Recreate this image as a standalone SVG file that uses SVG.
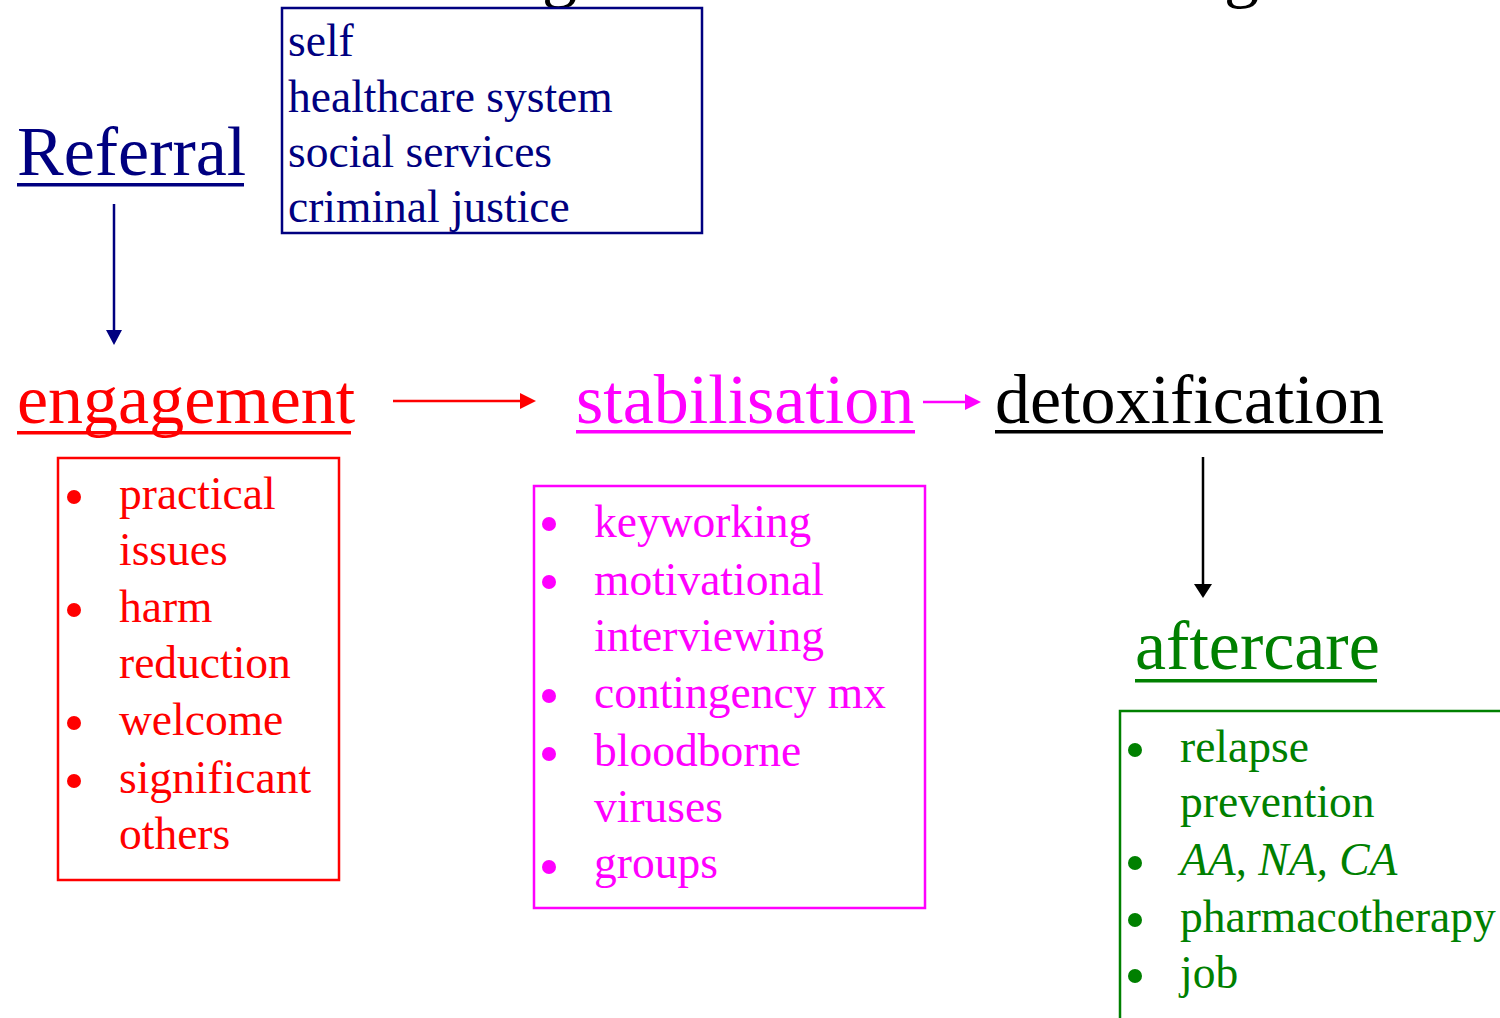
<svg xmlns="http://www.w3.org/2000/svg" width="1500" height="1018" viewBox="0 0 1500 1018">
<defs>
<style>
text{font-family:"Liberation Serif","Times New Roman",serif}
.h{font-size:70px}
.b{font-size:45.5px}
.navy{fill:#000080}
.red{fill:#FF0000}
.mag{fill:#FF00FF}
.grn{fill:#008000}
.blk{fill:#000000}
</style>
</defs>
<rect width="1500" height="1018" fill="#fff"/>
<g id="title-fragment">
<text x="542" y="-6" class="h blk">g</text>
<text x="1224" y="-6" class="h blk">g</text>
</g>
<g id="referral">
<text x="17" y="175" class="h navy">Referral</text>
<rect x="17" y="183" width="227" height="3.5" fill="#000080"/>
</g>
<g id="sources">
<rect x="282" y="8" width="420" height="225" fill="none" stroke="#000080" stroke-width="2.5"/>
<text class="b navy" x="288" y="56">self</text>
<text class="b navy" x="288" y="112">healthcare system</text>
<text class="b navy" x="288" y="167">social services</text>
<text class="b navy" x="288" y="222">criminal justice</text>
</g>
<g id="engagement">
<text x="17" y="423" class="h red">engagement</text>
<rect x="17" y="431" width="334" height="3.5" fill="#FF0000"/>
</g>
<g id="engagement-list">
<rect x="58" y="458" width="281" height="422" fill="none" stroke="#FF0000" stroke-width="2.5"/>
<g fill="#FF0000"><circle cx="74" cy="497" r="7"/><circle cx="74" cy="610" r="7"/><circle cx="74" cy="723" r="7"/><circle cx="74" cy="781" r="7"/></g>
<text class="b red" x="119" y="509">practical</text>
<text class="b red" x="119" y="565">issues</text>
<text class="b red" x="119" y="622">harm</text>
<text class="b red" x="119" y="678">reduction</text>
<text class="b red" x="119" y="735">welcome</text>
<text class="b red" x="119" y="793">significant</text>
<text class="b red" x="119" y="849">others</text>
</g>
<g id="stabilisation">
<text x="576" y="423" class="h mag">stabilisation</text>
<rect x="576" y="430" width="339" height="3.5" fill="#FF00FF"/>
</g>
<g id="stabilisation-list">
<rect x="534" y="486" width="391" height="422" fill="none" stroke="#FF00FF" stroke-width="2.5"/>
<g fill="#FF00FF"><circle cx="549" cy="524" r="7"/><circle cx="549" cy="582" r="7"/><circle cx="549" cy="696" r="7"/><circle cx="549" cy="754" r="7"/><circle cx="549" cy="867" r="7"/></g>
<text class="b mag" x="594" y="537">keyworking</text>
<text class="b mag" x="594" y="595">motivational</text>
<text class="b mag" x="594" y="651">interviewing</text>
<text class="b mag" x="594" y="708">contingency mx</text>
<text class="b mag" x="594" y="766">bloodborne</text>
<text class="b mag" x="594" y="822">viruses</text>
<text class="b mag" x="594" y="878">groups</text>
</g>
<g id="detoxification">
<text x="995" y="423" class="h blk">detoxification</text>
<rect x="995" y="430" width="388" height="3.5" fill="#000"/>
</g>
<g id="aftercare">
<text x="1135" y="669" class="h grn">aftercare</text>
<rect x="1135" y="679" width="242" height="3.5" fill="#008000"/>
</g>
<g id="aftercare-list">
<polyline points="1120,1018 1120,711 1500,711" fill="none" stroke="#008000" stroke-width="2.5"/>
<g fill="#008000"><circle cx="1135" cy="750" r="7"/><circle cx="1135" cy="863" r="7"/><circle cx="1135" cy="920" r="7"/><circle cx="1135" cy="976" r="7"/></g>
<text class="b grn" x="1180" y="762">relapse</text>
<text class="b grn" x="1180" y="817">prevention</text>
<text class="b grn" x="1180" y="875" font-style="italic">AA, NA, CA</text>
<text class="b grn" x="1180" y="932">pharmacotherapy</text>
<text class="b grn" x="1180" y="988">job</text>
</g>
<g id="connectors">
<line x1="114" y1="204" x2="114" y2="332" stroke="#000080" stroke-width="2.5"/>
<path d="M106,330 L122,330 L114,345 z" fill="#000080"/>
<line x1="393" y1="401" x2="522" y2="401" stroke="#FF0000" stroke-width="2.5"/>
<path d="M520,393 L536,401 L520,409 z" fill="#FF0000"/>
<line x1="923" y1="402" x2="967" y2="402" stroke="#FF00FF" stroke-width="2.5"/>
<path d="M965,394 L981,402 L965,410 z" fill="#FF00FF"/>
<line x1="1203" y1="457" x2="1203" y2="586" stroke="#000" stroke-width="2.5"/>
<path d="M1194,584 L1212,584 L1203,598 z" fill="#000"/>
</g>
</svg>
